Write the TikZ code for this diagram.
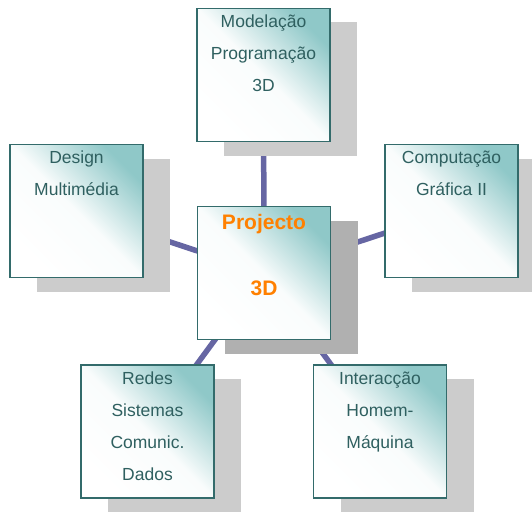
\documentclass[tikz,border=0pt]{standalone}
\usepackage{fontspec}
\setmainfont{Liberation Sans}
\usetikzlibrary{shadows,backgrounds}
\definecolor{boxteal}{HTML}{8FC8C8}
\definecolor{boxline}{HTML}{336B6B}
\definecolor{boxtext}{HTML}{2F6060}
\definecolor{linkblue}{HTML}{6666A3}
\definecolor{hubtext}{HTML}{FF8000}
\tikzset{
  topic/.style={draw=boxline, line width=1.5pt, minimum size=133pt, inner sep=0pt,
    top color=boxteal, bottom color=white, middle color=white!95!boxteal, shading angle=-45,
    general shadow={fill=black!20, shadow xshift=27pt, shadow yshift=-14pt}},
  hubbox/.style={topic, general shadow={fill=black!31, shadow xshift=27pt, shadow yshift=-14pt}},
  caption/.style={anchor=north, align=center, inner sep=0pt, yshift=-7pt, text=boxtext,
    font=\fontsize{17.5}{32}\selectfont},
  hubcaption/.style={anchor=north, align=center, inner sep=0pt, yshift=-8pt, text=hubtext,
    font=\fontsize{21}{33}\selectfont\bfseries},
  link/.style={linkblue, line width=5.5pt}
}

\begin{document}
\begin{tikzpicture}[x=1pt, y=-1pt]
\useasboundingbox (0,0) rectangle (532,511);

\node[hubbox, label={[hubcaption]north:Projecto\\ \\3D}] (hub) at (264,273) {};
\node[topic, label={[caption]north:Modelação\\Programação\\3D}] (model) at (263.5,75) {};
\node[topic, label={[caption]north:Design\\Multimédia}] (design) at (76.5,211) {};
\node[topic, label={[caption]north:Computação\\Gráfica II}] (graphics) at (451.5,211) {};
\node[topic, label={[caption]north:Redes\\Sistemas\\Comunic.\\Dados}] (nets) at (147.5,431.5) {};
\node[topic, label={[caption]north:Interacção\\Homem-\\Máquina}] (hci) at (380,431.5) {};

% links sit under the boxes
\begin{scope}[on background layer]
\draw[link] (hub.center) -- (model.center);
\draw[link] (hub.center) -- (design.center);
\draw[link] (hub.center) -- (graphics.center);
\draw[link] (hub.center) -- (nets.center);
\draw[link] (hub.center) -- (hci.center);
\end{scope}
\end{tikzpicture}
\end{document}
